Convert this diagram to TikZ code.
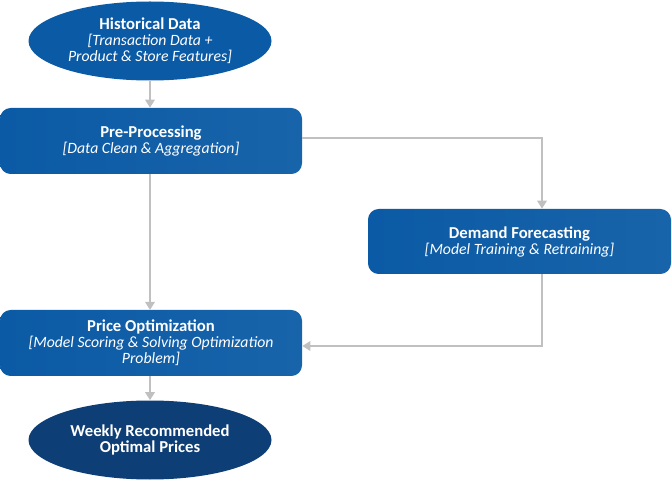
\documentclass[tikz,border=0pt]{standalone}
\usepackage{fontspec}
\setmainfont{Carlito}
\usetikzlibrary{shapes.geometric,arrows.meta}
\definecolor{boxblue}{RGB}{11,90,165}
\definecolor{boxblue2}{RGB}{24,100,170}
\definecolor{navy}{RGB}{14,62,118}
\definecolor{arrowgray}{RGB}{192,192,192}
\tikzset{
  procbox/.style={rectangle, rounded corners=8pt, left color=boxblue, right color=boxblue2, draw=none, text=white, align=center, inner sep=0pt},
  ovalnode/.style={ellipse, fill=boxblue, draw=none, text=white, align=center, inner sep=0pt},
  endoval/.style={ellipse, fill=navy, draw=none, text=white, align=center, inner sep=0pt},
  conn/.style={draw=arrowgray, line width=1.7pt, -{Triangle[length=6pt,width=7pt]}},
}
\newcommand{\subt}[1]{{\itshape\fontsize{11.8}{14.5}\selectfont #1}}
\newcommand{\ttlx}[1]{{\bfseries\fontsize{12.5}{14.5}\selectfont #1}}
\begin{document}
\begin{tikzpicture}[x=0.75pt,y=-0.75pt]
\useasboundingbox (0,0) rectangle (672,481);
\node[ovalnode, minimum width=243*0.75pt, minimum height=79*0.75pt] (hist) at (150,41)
  {\ttlx{Historical Data}\\\subt{[Transaction Data +}\\\subt{Product \& Store Features]}};
\node[procbox, minimum width=302*0.75pt, minimum height=66*0.75pt] (pre) at (151,141)
  {\ttlx{Pre-Processing}\\\subt{[Data Clean \& Aggregation]}};
\node[procbox, minimum width=303*0.75pt, minimum height=65*0.75pt] (dem) at (519.5,241.5)
  {\ttlx{Demand Forecasting}\\\subt{[Model Training \& Retraining]}};
\node[procbox, minimum width=302*0.75pt, minimum height=66*0.75pt] (price) at (151,343)
  {\ttlx{Price Optimization}\\\subt{[Model Scoring \& Solving Optimization}\\\subt{Problem]}};
\node[endoval, minimum width=243*0.75pt, minimum height=79*0.75pt] (out) at (150,440)
  {\ttlx{Weekly Recommended}\\\ttlx{Optimal Prices}};
\coordinate (c1) at (542,138);
\coordinate (c2) at (542,346);
\coordinate (p1) at (150,174);
\coordinate (p2) at (150,310);
\draw[conn] (hist.south) -- (hist.south |- pre.north);
\draw[conn] (p1) -- (p2);
\draw[conn] (pre.east |- c1) -- (c1) -- (c1 |- dem.north);
\draw[conn] (c1 |- dem.south) -- (c2) -- (price.east |- c2);
\draw[conn] (price.south -| out.north) -- (out.north);
\end{tikzpicture}
\end{document}
